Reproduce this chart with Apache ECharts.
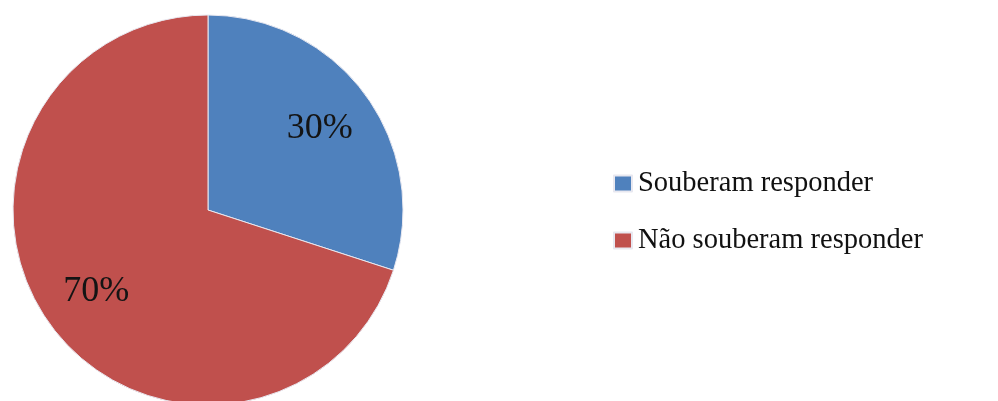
<!DOCTYPE html>
<html>
<head>
<meta charset="utf-8">
<script src="https://cdn.jsdelivr.net/npm/echarts@6/dist/echarts.min.js"></script>
<style>html,body{margin:0;padding:0;background:#fff;}#c{width:998px;height:401px;}</style>
</head>
<body>
<div id="c"></div>
<script>
const categories = ['Souberam responder', 'Não souberam responder'];
const values = [30, 70];
const colors = ['#4F81BD', '#C0504D'];

const data = categories.map((n, i) => ({ name: n, value: values[i] }));
const chart = echarts.init(document.getElementById('c'), null, { renderer: 'canvas' });
chart.setOption({
  animation: false,
  color: colors,
  legend: {
    orient: 'vertical',
    left: 608,
    top: 164,
    icon: 'rect',
    itemWidth: 18,
    itemHeight: 16,
    itemGap: 28,
    textStyle: { fontFamily: 'Liberation Serif', fontSize: 28.5, color: '#111', padding: [0, 0, 0, 1] },
    data: categories
  },
  series: [
    {
      type: 'pie',
      center: [208, 210],
      radius: 195,
      startAngle: 90,
      clockwise: true,
      silent: true,
      label: { show: false },
      labelLine: { show: false },
      itemStyle: { borderColor: '#e8e8f0', borderWidth: 1 },
      data: data
    },
    {
      type: 'pie',
      center: [208, 210],
      radius: [76, 194],
      startAngle: 90,
      clockwise: true,
      silent: true,
      legendHoverLink: false,
      itemStyle: { color: 'rgba(0,0,0,0)' },
      label: {
        show: true,
        position: 'inside',
        formatter: (p) => p.value + '%',
        fontFamily: 'Liberation Serif',
        fontSize: 36,
        color: '#141414'
      },
      labelLine: { show: false },
      data: data.map(d => ({ name: d.name + ' ', value: d.value }))
    }
  ]
});
</script>
</body>
</html>
